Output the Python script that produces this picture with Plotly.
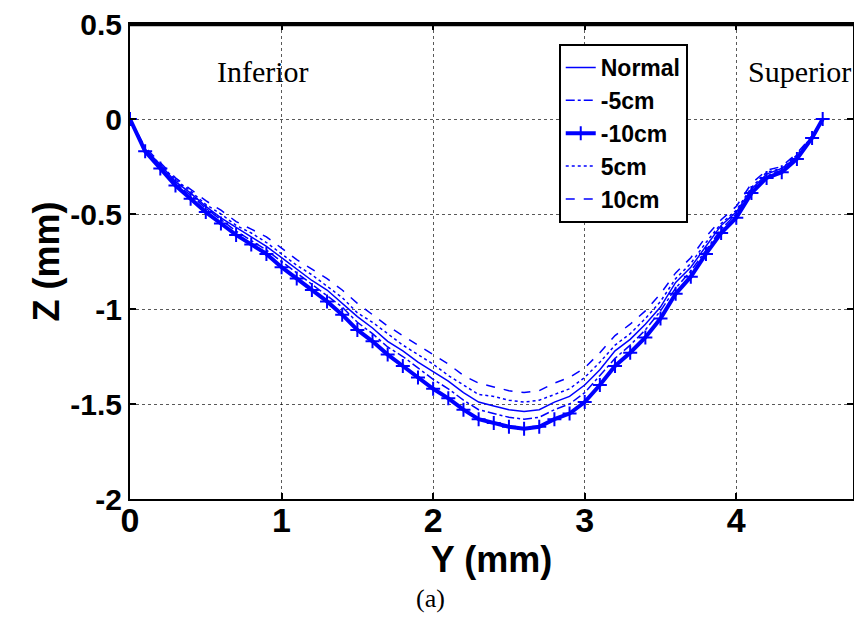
import plotly.graph_objects as go

# Y position (mm)
y_mm = [0.0, 0.1, 0.2, 0.3, 0.4, 0.5, 0.6, 0.7, 0.8, 0.9,
        1.0, 1.1, 1.2, 1.3, 1.4, 1.5, 1.6, 1.7, 1.8, 1.9,
        2.0, 2.1, 2.2, 2.3, 2.4, 2.5, 2.6, 2.7, 2.8, 2.9,
        3.0, 3.1, 3.2, 3.3, 3.4, 3.5, 3.6, 3.7, 3.8, 3.9,
        4.0, 4.1, 4.2, 4.3, 4.4, 4.5, 4.57]

z_normal = [0, -0.16, -0.24, -0.33, -0.39, -0.46, -0.52, -0.57, -0.62, -0.67,
            -0.73, -0.79, -0.85, -0.90, -0.97, -1.04, -1.10, -1.17, -1.22, -1.28,
            -1.33, -1.38, -1.44, -1.49, -1.51, -1.53, -1.54, -1.53, -1.49, -1.46,
            -1.40, -1.32, -1.22, -1.16, -1.08, -0.99, -0.86, -0.78, -0.67, -0.56,
            -0.49, -0.37, -0.29, -0.26, -0.20, -0.09, 0.00]

z_m5 = [0, -0.16, -0.25, -0.34, -0.40, -0.47, -0.53, -0.59, -0.64, -0.69,
        -0.75, -0.81, -0.87, -0.93, -0.99, -1.07, -1.13, -1.20, -1.25, -1.31,
        -1.37, -1.42, -1.48, -1.53, -1.55, -1.57, -1.58, -1.57, -1.53, -1.50,
        -1.44, -1.35, -1.26, -1.19, -1.11, -1.01, -0.89, -0.80, -0.69, -0.58,
        -0.50, -0.38, -0.30, -0.27, -0.20, -0.10, 0.00]

z_m10 = [0.00, -0.17, -0.26, -0.35, -0.42, -0.49, -0.55, -0.61, -0.66, -0.71,
         -0.78, -0.84, -0.90, -0.96, -1.03, -1.11, -1.17, -1.24, -1.30, -1.36,
         -1.42, -1.47, -1.53, -1.58, -1.60, -1.62, -1.63, -1.62, -1.58, -1.55,
         -1.49, -1.40, -1.30, -1.23, -1.15, -1.05, -0.92, -0.83, -0.71, -0.60,
         -0.52, -0.39, -0.31, -0.28, -0.21, -0.10, 0.00]

z_p5 = [0, -0.16, -0.24, -0.32, -0.38, -0.45, -0.50, -0.56, -0.60, -0.65,
        -0.71, -0.77, -0.82, -0.88, -0.94, -1.02, -1.07, -1.13, -1.19, -1.24,
        -1.29, -1.35, -1.40, -1.45, -1.46, -1.48, -1.49, -1.48, -1.45, -1.42,
        -1.36, -1.28, -1.19, -1.13, -1.05, -0.96, -0.84, -0.76, -0.65, -0.55,
        -0.48, -0.36, -0.28, -0.26, -0.19, -0.09, 0.00]

z_p10 = [0, -0.15, -0.23, -0.31, -0.37, -0.43, -0.48, -0.54, -0.58, -0.62,
         -0.68, -0.74, -0.79, -0.84, -0.90, -0.97, -1.03, -1.09, -1.14, -1.19,
         -1.24, -1.29, -1.35, -1.39, -1.41, -1.43, -1.44, -1.43, -1.39, -1.36,
         -1.31, -1.23, -1.14, -1.08, -1.01, -0.92, -0.81, -0.73, -0.62, -0.53,
         -0.46, -0.34, -0.27, -0.25, -0.18, -0.09, 0.00]

x_ticks = [0, 1, 2, 3, 4]
y_ticks = [0.5, 0, -0.5, -1, -1.5, -2]
y_tick_text = ["0.5", "0", "-0.5", "-1", "-1.5", "-2"]

BLUE = "#0000ff"
fig = go.Figure()
fig.add_trace(go.Scatter(x=y_mm, y=z_normal, mode="lines", name="Normal",
                         line=dict(color=BLUE, width=1.5)))
fig.add_trace(go.Scatter(x=y_mm, y=z_m5, mode="lines", name="-5cm",
                         line=dict(color=BLUE, width=1.5, dash="dashdot")))
fig.add_trace(go.Scatter(x=y_mm, y=z_m10, mode="lines+markers", name="-10cm",
                         line=dict(color=BLUE, width=4),
                         marker=dict(symbol="cross-thin", size=10, color=BLUE,
                                     line=dict(color=BLUE, width=2))))
fig.add_trace(go.Scatter(x=y_mm, y=z_p5, mode="lines", name="5cm",
                         line=dict(color=BLUE, width=1.5, dash="dot")))
fig.add_trace(go.Scatter(x=y_mm, y=z_p10, mode="lines", name="10cm",
                         line=dict(color=BLUE, width=1.5, dash="dash")))

bold = dict(family="Liberation Sans, Arial", color="black", weight="bold")
serif = dict(family="Liberation Serif, Times New Roman", color="black")

fig.update_layout(
    width=854, height=617,
    margin=dict(l=122, r=9, t=16, b=126),
    paper_bgcolor="white", plot_bgcolor="white",
    showlegend=True,
    legend=dict(x=0.593, y=0.958, xanchor="left", yanchor="top",
                bordercolor="black", borderwidth=2, bgcolor="white",
                font=dict(size=23, **bold), itemwidth=30,
                tracegroupgap=0),
    xaxis=dict(range=[0, 4.77], tickvals=x_ticks, ticks="inside", ticklen=6,
               tickwidth=1.5, tickcolor="black", automargin=False,
               ticklabelstandoff=-10,
               showline=True, linecolor="black", linewidth=2, mirror="allticks",
               showgrid=True, gridcolor="rgba(0,0,0,0.65)", gridwidth=1, griddash="dot",
               zeroline=False, tickfont=dict(size=34, **bold),
               title=dict(text="Y (mm)", font=dict(size=36, **bold), standoff=0)),
    yaxis=dict(range=[-2, 0.5], tickvals=y_ticks, ticktext=y_tick_text,
               ticks="inside", ticklen=6, tickwidth=1.5, tickcolor="black",
               automargin=False, ticklabeloverflow="allow",
               showline=True, linecolor="black", linewidth=2, mirror="allticks",
               showgrid=True, gridcolor="rgba(0,0,0,0.65)", gridwidth=1, griddash="dot",
               zeroline=False, tickfont=dict(size=30, **bold),
               title=dict(text="Z (mm)", font=dict(size=36, **bold), standoff=0)),
    shapes=[dict(type="line", xref="paper", yref="paper", x0=0, x1=1, y0=0.998, y1=0.998,
                 line=dict(color="black", width=2.5), layer="above")],
    annotations=[
        dict(text="Inferior", x=0.88, y=0.25, xref="x", yref="y", showarrow=False,
             xanchor="center", yanchor="middle", font=dict(size=30, **serif)),
        dict(text="Superior", x=4.42, y=0.25, xref="x", yref="y", showarrow=False,
             xanchor="center", yanchor="middle", font=dict(size=30, **serif)),
        dict(text="(a)", x=0.415, y=-0.21, xref="paper", yref="paper", showarrow=False,
             xanchor="center", yanchor="middle", font=dict(size=26, **serif)),
    ],
)

fig.write_html("out.html", config={"displayModeBar": False})
